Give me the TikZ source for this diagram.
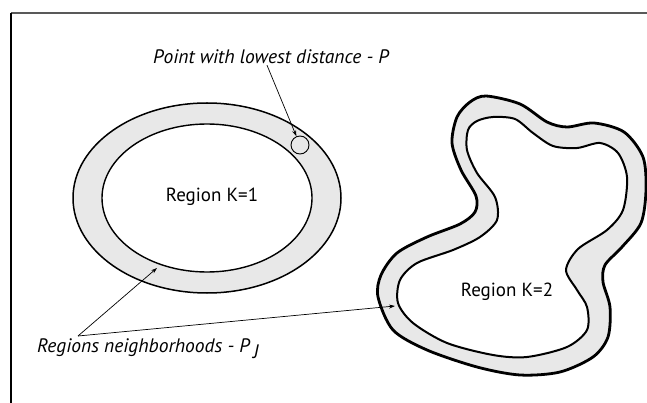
\documentclass[tikz,border=0pt]{standalone}
\usepackage{fontspec}
\setmainfont{PT Sans}
\usetikzlibrary{arrows.meta, positioning}

\begin{document}
\begin{tikzpicture}[
	x=1pt, y=-1pt,
	>={Stealth[length=6pt, width=4pt]},
	% Style for the grey neighbourhood bands
	band/.style={fill=gray!18, even odd rule},
	% Style for region borders
	outerline/.style={draw=black, line width=1.5pt},
	innerline/.style={draw=black, line width=1.4pt},
	% Style for labels
	lbl/.style={inner sep=1pt, font=\fontsize{19}{21}\selectfont},
	note/.style={inner sep=1pt, font=\fontsize{19.5}{21}\selectfont\itshape},
	pointer/.style={->, line width=0.7pt}
	]
	\useasboundingbox (0,0) rectangle (647,403);
	
	% 1. Frame
	\draw[gray!70!black, line width=1.5pt] (11,13) -- (647,13);
	\draw[black, line width=1.2pt] (11,13) -- (11,403);
	
	% 2. Region K=1 with its neighbourhood band
	\fill[band] (207,198) ellipse [x radius=134pt, y radius=95pt]
	            (207,198) ellipse [x radius=105pt, y radius=74pt];
	\draw[outerline] (207,198) ellipse [x radius=134pt, y radius=95pt];
	\draw[innerline] (207,198) ellipse [x radius=105pt, y radius=74pt];
	\node[lbl] (reg1) at (212,197) {Region K=1};
	
	% 3. Region K=2 with its neighbourhood band
	\fill[band]
	plot[smooth cycle] coordinates {(486,96) (520,104) (547,122) (567,127) (594,123)
		(624,132) (643,157) (646,190) (641,223) (622,247) (605,265) (603,282) (610,307)
		(608,337) (593,357) (560,372) (520,375) (477,367) (427,350) (393,330) (378,297)
		(381,275) (397,253) (427,237) (460,224) (475,212) (476,196) (461,170) (452,143)
		(457,117) (470,102)}
	plot[smooth cycle] coordinates {(493,117) (515,119) (533,133) (553,146) (577,148)
		(600,143) (618,153) (627,177) (623,210) (607,230) (578,249) (566,270) (577,290)
		(587,307) (587,330) (567,347) (527,357) (493,355) (447,343) (413,323) (398,303)
		(400,280) (417,263) (453,250) (480,237) (497,220) (495,197) (477,173) (467,150)
		(468,130) (477,121)};
	\draw[outerline, line width=2.8pt]
	plot[smooth cycle] coordinates {(486,96) (520,104) (547,122) (567,127) (594,123)
		(624,132) (643,157) (646,190) (641,223) (622,247) (605,265) (603,282) (610,307)
		(608,337) (593,357) (560,372) (520,375) (477,367) (427,350) (393,330) (378,297)
		(381,275) (397,253) (427,237) (460,224) (475,212) (476,196) (461,170) (452,143)
		(457,117) (470,102)};
	\draw[innerline, line width=2pt]
	plot[smooth cycle] coordinates {(493,117) (515,119) (533,133) (553,146) (577,148)
		(600,143) (618,153) (627,177) (623,210) (607,230) (578,249) (566,270) (577,290)
		(587,307) (587,330) (567,347) (527,357) (493,355) (447,343) (413,323) (398,303)
		(400,280) (417,263) (453,250) (480,237) (497,220) (495,197) (477,173) (467,150)
		(468,130) (477,121)};
	\node[lbl] (reg2) at (507,292) {Region K=2};
	
	% 4. Point with lowest distance
	\node[draw, circle, line width=0.9pt, minimum size=18pt, inner sep=0pt] (P) at (300,145) {};
	\node[note] (ptlabel) at (271,57) {Point with lowest distance - P};
	\draw[pointer] ([xshift=-4pt]ptlabel.south) -- (P);
	
	% 5. Neighbourhood label and its two pointers
	\node[note, anchor=west] (nblabel) at (36,349) {Regions neighborhoods - P\,\raisebox{-0.6ex}{J}};
	\coordinate (apex) at (78,336);
	\coordinate (nb1) at (157,268);
	\coordinate (nb2) at (395,306);
	\draw[pointer] (apex) -- (nb1);
	\draw[pointer] (apex) -- (nb2);
	
\end{tikzpicture}
\end{document}
